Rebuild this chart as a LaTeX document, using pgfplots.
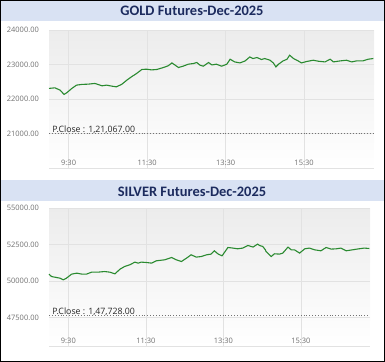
\documentclass[border=0pt]{standalone}
\usepackage{pgfplots}
\pgfplotsset{compat=1.18}
\usepackage{fontspec}
\setmainfont{Open Sans}
\newfontfamily\titlefont{Carlito}
\definecolor{band}{HTML}{D9E2F3}
\definecolor{navy}{HTML}{1C2B5E}
\definecolor{lgreen}{HTML}{2A8A30}
\definecolor{tickgray}{HTML}{707070}
\definecolor{gridc}{HTML}{E2E2E2}
\definecolor{bgtop}{HTML}{ECECEC}

\pgfplotsset{mcx/.style={
  scale only axis, height=138bp, anchor=south west,
  xmin=0, xmax=497,
  xtick={30,150,270,390}, xticklabels={9:30,11:30,13:30,15:30},
  scaled y ticks=false,
  axis line style={draw=none},
  major tick length=0pt,
  grid=major, grid style={gridc, line width=0.6bp},
  axis background/.style={top color=bgtop, bottom color=white},
  xticklabel style={font=\fontsize{7.5}{8}\selectfont, text=tickgray, anchor=center, yshift=5bp},
  yticklabel style={font=\fontsize{7.5}{8}\selectfont, text=tickgray, anchor=east, inner sep=0pt, xshift=-10bp},
  clip=false,
}}

\begin{document}
\begin{tikzpicture}
\path[use as bounding box] (0,0) rectangle (385bp,-362bp);
% title bands
\fill[band] (1bp,-1bp) rectangle (384bp,-21bp);
\node[font=\titlefont\bfseries\fontsize{14.5}{16}\selectfont, text=navy] at (192bp,-11.3bp) {GOLD Futures-Dec-2025};
\fill[band] (1bp,-180bp) rectangle (384bp,-201bp);
\node[font=\titlefont\bfseries\fontsize{14.5}{16}\selectfont, text=navy] at (192bp,-192bp) {SILVER Futures-Dec-2025};

% GOLD
\begin{axis}[mcx, at={(49bp,-168bp)}, width=325bp,
  ymin=20000, ymax=24000,
  ytick={21000,22000,23000,24000}, yticklabels={21000.00,22000.00,23000.00,24000.00}]
\draw[gridc] (rel axis cs:0,0) -- (rel axis cs:1,0);
\addplot[dotted, black!55, line width=0.9bp] coordinates {(0,20990) (497,20990)};
\node[anchor=base west, inner sep=0pt, font=\fontsize{8.8}{10}\selectfont, text=black!85] at (axis cs:5,21040) {P.Close : 1,21,067.00};
\addplot[lgreen, line width=1.1bp] coordinates {
(0,22307) (9,22324) (17,22257) (23,22133) (27,22179) (35,22307) (42,22402)
(50,22422) (60,22431) (70,22451) (75,22422) (81,22382) (88,22402) (96,22373)
(103,22353) (111,22422) (119,22546) (126,22642) (134,22740) (142,22856)
(149,22864) (157,22844) (165,22856) (175,22913) (182,22960) (188,23046)
(193,22980) (198,22913) (205,22951) (213,23009) (221,23029) (226,23058)
(231,22980) (236,22951) (244,23058) (249,22988) (256,23009) (264,22951)
(272,23009) (277,23153) (284,23075) (292,23046) (300,23104) (307,23220)
(312,23173) (318,23202) (325,23145) (330,23173) (338,23124) (343,23046)
(347,22931) (351,23009) (358,23104) (364,23153) (368,23269) (374,23173)
(381,23104) (386,23046) (394,23087) (404,23124) (412,23095) (422,23075)
(430,23153) (435,23075) (445,23104) (455,23124) (463,23075) (470,23104)
(480,23104) (488,23153) (496,23173)};
\end{axis}

% SILVER
\begin{axis}[mcx, at={(49bp,-346bp)}, width=321bp,
  ymin=45560, ymax=55000,
  ytick={47500,50000,52500,55000}, yticklabels={47500.00,50000.00,52500.00,55000.00}]
\draw[gridc] (rel axis cs:0,0) -- (rel axis cs:1,0);
\addplot[dotted, black!55, line width=0.9bp] coordinates {(0,47640) (497,47640)};
\node[anchor=base west, inner sep=0pt, font=\fontsize{8.8}{10}\selectfont, text=black!85] at (axis cs:5,47740) {P.Close : 1,47,728.00};
\addplot[lgreen, line width=1.1bp] coordinates {
(0,50476) (4,50311) (12,50243) (17,50201) (22,50085) (27,50201) (35,50476)
(43,50544) (51,50476) (58,50476) (66,50613) (76,50613) (86,50654) (94,50613)
(102,50496) (110,50818) (117,50997) (125,51113) (133,51298) (138,51230)
(143,51298) (151,51271) (159,51230) (166,51387) (179,51456) (190,51614)
(197,51456) (205,51339) (213,51572) (220,51799) (228,51641) (236,51682)
(244,51799) (251,51847) (256,52073) (262,51847) (268,51730) (277,52299)
(285,52258) (292,52210) (300,52258) (308,52436) (316,52327) (323,52532)
(326,52436) (331,52368) (335,52141) (336,52025) (344,51682) (349,51867)
(357,51847) (362,51915) (370,52327) (375,52141) (380,52141) (388,51915)
(396,52210) (403,52258) (411,52141) (421,52073) (429,52299) (437,52189)
(445,52210) (452,52258) (460,52073) (470,52141) (480,52210) (488,52258)
(496,52231)};
\end{axis}

% outer frame
\draw[black, line width=1.2bp] (0.6bp,-0.6bp) rectangle (384.4bp,-361.4bp);
\end{tikzpicture}
\end{document}
